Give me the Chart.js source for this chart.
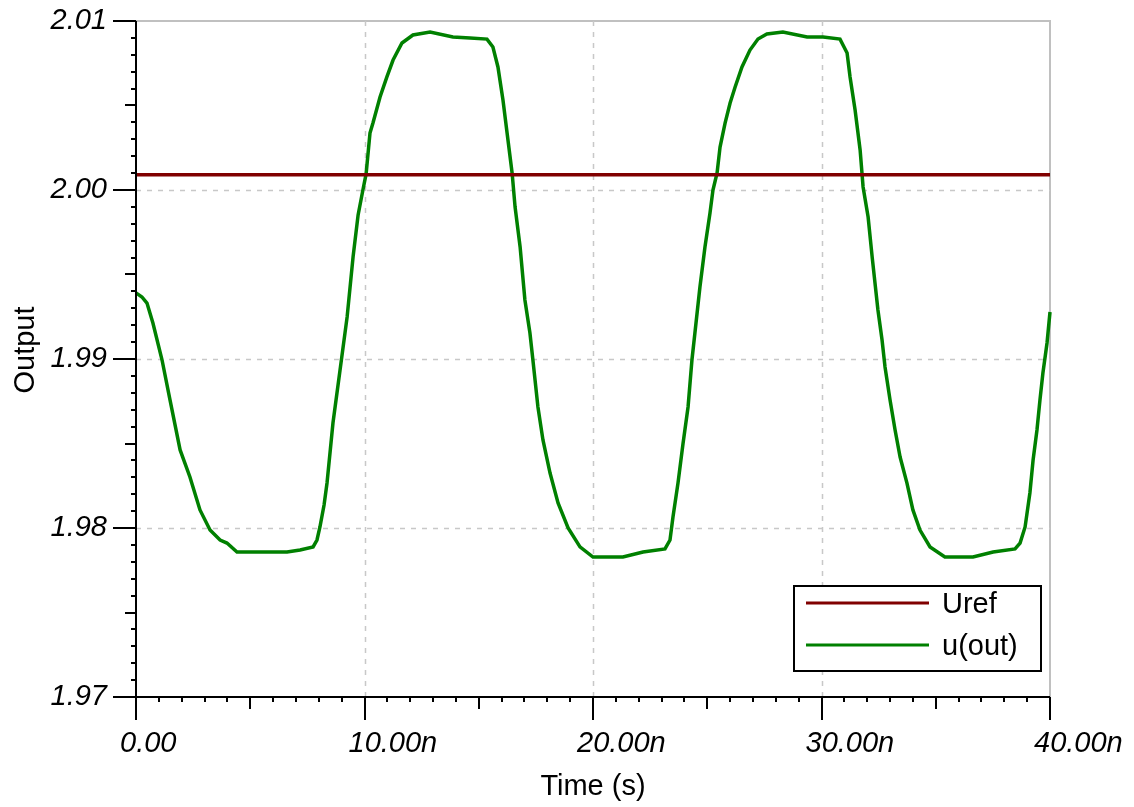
<!DOCTYPE html>
<html>
<head>
<meta charset="utf-8">
<script src="https://cdn.jsdelivr.net/npm/chart.js@4"></script>
<style>
  html, body { margin: 0; padding: 0; background: #ffffff; }
  canvas { display: block; }
</style>
</head>
<body>
<canvas id="outputChart" width="1134" height="807"></canvas>
<script>
// ---------------------------
// Data (time in ns)
// ---------------------------

const timeNs = [
    0, 0.26, 0.48, 0.74, 1.14, 1.49, 1.93, 2.36, 2.80, 3.24, 3.68, 3.98, 4.42, 5.43, 6.61,
    7.18, 7.75, 7.92, 8.05, 8.23, 8.36, 8.62, 8.93, 9.24, 9.50, 9.72, 9.93, 10.07, 10.24,
    10.37, 10.68, 10.98, 11.25, 11.64, 12.12, 12.87, 13.87, 14.62, 15.36, 15.62, 15.84,
    16.06, 16.24, 16.46, 16.59, 16.81, 17.02, 17.24, 17.37, 17.59, 17.81, 18.12, 18.47,
    18.91, 19.43, 20.00, 21.31, 22.19, 23.15, 23.37, 23.50, 23.72, 23.94, 24.16, 24.33,
    24.46, 24.68, 24.90, 25.12, 25.25, 25.43, 25.56, 25.78, 26.00, 26.22, 26.52, 26.87,
    27.22, 27.61, 28.31, 29.37, 30.07, 30.81, 31.12, 31.25, 31.47, 31.69, 31.82, 32.04,
    32.22, 32.47, 32.65, 32.78, 33.00, 33.22, 33.44, 33.74, 34.00, 34.31, 34.75, 35.40,
    36.63, 37.51, 38.47, 38.69, 38.91, 39.12, 39.26, 39.43, 39.56, 39.69, 39.87, 40.00
];

const uOut = [
    1.99391, 1.99367, 1.99331, 1.99213, 1.98994, 1.98757, 1.98462, 1.98302, 1.98107, 1.97988, 1.97929, 1.97911, 1.97858, 1.97858, 1.97858,
    1.97870, 1.97888, 1.97929, 1.98006, 1.98136, 1.98266, 1.98621, 1.98935, 1.99249, 1.99604, 1.99852, 2.00000, 2.00095, 2.00337,
    2.00396, 2.00550, 2.00669, 2.00769, 2.00870, 2.00917, 2.00935, 2.00905, 2.00899, 2.00893, 2.00846, 2.00728,
    2.00533, 2.00337, 2.00101, 1.99899, 1.99663, 1.99349, 1.99154, 1.98994, 1.98716, 1.98521, 1.98325, 1.98148,
    1.98000, 1.97888, 1.97828, 1.97828, 1.97858, 1.97876, 1.97929, 1.98065, 1.98266, 1.98500, 1.98716, 1.98994,
    1.99154, 1.99426, 1.99663, 1.99864, 2.00000, 2.00101, 2.00254, 2.00396, 2.00515, 2.00609, 2.00728, 2.00828,
    2.00893, 2.00923, 2.00935, 2.00905, 2.00905, 2.00893, 2.00811, 2.00669, 2.00473, 2.00237, 2.00018, 1.99840,
    1.99600, 1.99290, 1.99112, 1.98953, 1.98757, 1.98580, 1.98420, 1.98266, 1.98107, 1.97988, 1.97888, 1.97828,
    1.97828, 1.97858, 1.97876, 1.97911, 1.98006, 1.98207, 1.98402, 1.98580, 1.98757, 1.98917, 1.99095, 1.99278
];

const urefTime = [0, 40];
const urefValue = [2.0009, 2.0009];

const seriesNames = ["Uref", "u(out)"];
const seriesColors = ["#800000", "#008000"];

const xTickValues = [0, 10, 20, 30, 40];
const xTickLabels = ["0.00", "10.00n", "20.00n", "30.00n", "40.00n"];
const yTickValues = [1.97, 1.98, 1.99, 2.00, 2.01];
const yTickLabels = ["1.97", "1.98", "1.99", "2.00", "2.01"];

const xTitle = "Time (s)";
const yTitle = "Output";

const FONT = "'Liberation Sans', Arial, sans-serif";


// ---------------------------
// Axes, grid and legend drawn like the original tool
// ---------------------------

const frameAndTicks = {

    id: "frameAndTicks",

    beforeDatasetsDraw(chart) {

        const ctx = chart.ctx;
        const area = chart.chartArea;
        const xs = chart.scales.x;
        const ys = chart.scales.y;

        ctx.save();

        // top and right borders
        ctx.strokeStyle = "#c0c0c0";
        ctx.lineWidth = 2;
        ctx.beginPath();
        ctx.moveTo(area.left, area.top);
        ctx.lineTo(area.right, area.top);
        ctx.lineTo(area.right, area.bottom);
        ctx.stroke();

        // dashed grid
        ctx.strokeStyle = "#c8c8c8";
        ctx.lineWidth = 1.5;
        ctx.setLineDash([5, 6]);

        xTickValues.slice(1, -1).forEach(function(v) {
            const px = Math.round(xs.getPixelForValue(v)) + 0.5;
            ctx.beginPath();
            ctx.moveTo(px, area.top);
            ctx.lineTo(px, area.bottom);
            ctx.stroke();
        });

        yTickValues.slice(1, -1).forEach(function(v) {
            const py = Math.round(ys.getPixelForValue(v)) + 0.5;
            ctx.beginPath();
            ctx.moveTo(area.left, py);
            ctx.lineTo(area.right, py);
            ctx.stroke();
        });

        ctx.restore();

    },

    afterDatasetsDraw(chart) {

        const ctx = chart.ctx;
        const area = chart.chartArea;
        const xs = chart.scales.x;
        const ys = chart.scales.y;

        ctx.save();

        ctx.strokeStyle = "#000000";
        ctx.lineWidth = 2;

        // axis lines
        ctx.beginPath();
        ctx.moveTo(area.left, area.top);
        ctx.lineTo(area.left, area.bottom + 23);
        ctx.moveTo(area.left - 23, area.bottom);
        ctx.lineTo(area.right, area.bottom);
        ctx.stroke();

        // x ticks: 1n minor, 5n medium, 10n major
        for (let i = 0; i <= 40; i++) {
            const px = Math.round(xs.getPixelForValue(i));
            const len = i % 10 === 0 ? 23 : (i % 5 === 0 ? 12 : 5);
            ctx.beginPath();
            ctx.moveTo(px, area.bottom);
            ctx.lineTo(px, area.bottom + len);
            ctx.stroke();
        }

        // y ticks: 0.001 minor, 0.005 medium, 0.01 major
        for (let i = 0; i <= 40; i++) {
            const py = Math.round(ys.getPixelForValue(1.97 + i * 0.001));
            const len = i % 10 === 0 ? 23 : (i % 5 === 0 ? 11 : 5);
            ctx.beginPath();
            ctx.moveTo(area.left, py);
            ctx.lineTo(area.left - len, py);
            ctx.stroke();
        }

        // axis titles
        ctx.fillStyle = "#000000";
        ctx.font = "29px " + FONT;
        ctx.textAlign = "center";
        ctx.textBaseline = "middle";
        ctx.fillText(xTitle, (area.left + area.right) / 2, 787);

        ctx.translate(26, 350);
        ctx.rotate(-Math.PI / 2);
        ctx.fillText(yTitle, 0, 0);

        ctx.restore();

        // legend box
        const bx = area.right - 256;
        const by = area.bottom - 111;
        const bw = 247;
        const bh = 85;

        ctx.save();
        ctx.fillStyle = "#ffffff";
        ctx.fillRect(bx, by, bw, bh);
        ctx.strokeStyle = "#000000";
        ctx.lineWidth = 2;
        ctx.strokeRect(bx, by, bw, bh);

        ctx.font = "29px " + FONT;
        ctx.textAlign = "left";
        ctx.textBaseline = "middle";

        seriesNames.forEach(function(name, i) {
            const ly = by + 17 + i * 42;
            ctx.strokeStyle = seriesColors[i];
            ctx.lineWidth = 3;
            ctx.beginPath();
            ctx.moveTo(bx + 12, ly);
            ctx.lineTo(bx + 135, ly);
            ctx.stroke();
            ctx.fillStyle = "#000000";
            ctx.fillText(name, bx + 148, ly + 2);
        });

        ctx.restore();

    }

};

// no extra room for overflowing tick labels: the plot box is fixed
function noLabelPadding(scale) {
    scale.paddingTop = 0;
    scale.paddingBottom = 0;
    scale.paddingLeft = 0;
    scale.paddingRight = 0;
}


// ---------------------------
// Chart
// ---------------------------

const outputCanvas = document.getElementById("outputChart");

new Chart(outputCanvas, {

    type: "line",

    data: {

        datasets: [

            {
                label: seriesNames[0],
                data: urefTime.map(function(t, i) { return { x: t, y: urefValue[i] }; }),
                borderColor: seriesColors[0],
                borderWidth: 3.5,
                pointRadius: 0,
                tension: 0
            },

            {
                label: seriesNames[1],
                data: timeNs.map(function(t, i) { return { x: t, y: uOut[i] }; }),
                borderColor: seriesColors[1],
                borderWidth: 3.5,
                pointRadius: 0,
                tension: 0
            }

        ]

    },

    options: {

        responsive: false,
        animation: false,
        clip: false,

        layout: {
            padding: { top: 21, right: 84, bottom: 0, left: 0 }
        },

        plugins: {
            legend: { display: false },
            tooltip: { enabled: false }
        },

        scales: {

            x: {
                type: "linear",
                min: 0,
                max: 40,
                afterBuildTicks: function(scale) {
                    scale.ticks = xTickValues.map(function(v) { return { value: v }; });
                },
                afterFit: function(scale) {
                    scale.height = 110;
                    noLabelPadding(scale);
                },
                grid: { display: false, drawTicks: false },
                border: { display: false },
                ticks: {
                    align: "start",
                    labelOffset: -16,
                    padding: 30,
                    maxRotation: 0,
                    autoSkip: false,
                    color: "#000000",
                    font: { family: FONT, size: 29, style: "italic" },
                    callback: function(value) {
                        return xTickLabels[xTickValues.indexOf(value)];
                    }
                }
            },

            y: {
                type: "linear",
                min: 1.97,
                max: 2.01,
                afterBuildTicks: function(scale) {
                    scale.ticks = yTickValues.map(function(v) { return { value: v }; });
                },
                afterFit: function(scale) {
                    scale.width = 136;
                    noLabelPadding(scale);
                },
                grid: { display: false, drawTicks: false },
                border: { display: false },
                ticks: {
                    padding: 29,
                    autoSkip: false,
                    color: "#000000",
                    font: { family: FONT, size: 29, style: "italic" },
                    callback: function(value, index) {
                        return yTickLabels[index];
                    }
                }
            }

        }

    },

    plugins: [frameAndTicks]

});
</script>
</body>
</html>
